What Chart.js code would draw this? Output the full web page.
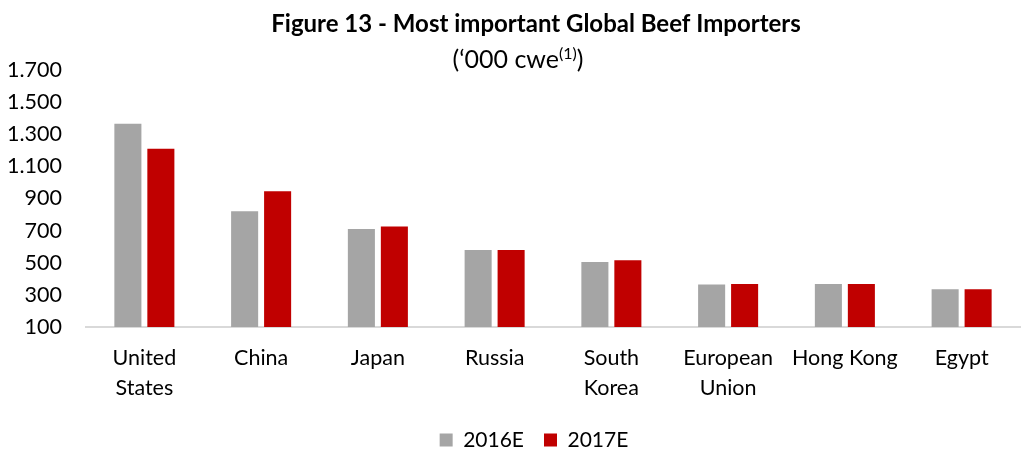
<!DOCTYPE html>
<html>
<head>
<meta charset="utf-8">
<script src="https://cdn.jsdelivr.net/npm/chart.js@4/dist/chart.umd.min.js"></script>
<style>
  body { margin: 0; background: #fff; }
  #wrap { width: 1023px; height: 453px; position: relative; }
</style>
</head>
<body>
<div id="wrap"><canvas id="beefChart"></canvas></div>
<script>
// data
var paises = [['United', 'States'], 'China', 'Japan', 'Russia', ['South', 'Korea'], ['European', 'Union'], 'Hong Kong', 'Egypt'];
var datos2016 = [1365, 820, 710, 580, 505, 365, 368, 335];
var datos2017 = [1210, 945, 725, 580, 515, 368, 368, 335];
var ticksY = [100, 300, 500, 700, 900, 1100, 1300, 1500, 1700];

var fuente = 'Lato, "Open Sans", "Liberation Sans", sans-serif';

// title + subtitle with superscript
var tituloPlugin = {
    id: 'titulo',
    afterDraw: function(chart) {
        var ctx = chart.ctx;
        ctx.save();
        ctx.fillStyle = '#000';
        ctx.textBaseline = 'alphabetic';
        ctx.font = 'bold 24px ' + fuente;
        ctx.textAlign = 'center';
        ctx.fillText('Figure 13 - Most important Global Beef Importers', 536, 32);

        ctx.font = '25px ' + fuente;
        var a = '(\u2018000 cwe', sup = '(1)', b = ')';
        ctx.textAlign = 'left';
        var wa = ctx.measureText(a).width;
        var wb = ctx.measureText(b).width;
        ctx.font = '16px ' + fuente;
        var ws = ctx.measureText(sup).width;
        var x = 518 - (wa + ws + wb) / 2;
        ctx.font = '25px ' + fuente;
        ctx.fillText(a, x, 68);
        ctx.font = '16px ' + fuente;
        ctx.fillText(sup, x + wa, 59);
        ctx.font = '25px ' + fuente;
        ctx.fillText(b, x + wa + ws, 68);
        ctx.restore();
    }
};

// leyenda un poco mas baja y corrida a la derecha, como en la figura
var leyendaPlugin = {
    id: 'ajusteLeyenda',
    beforeLayout: function(chart) {
        var leg = chart.legend;
        if (leg && !leg._ajustada) {
            var fitOrig = leg.fit;
            leg.fit = function() {
                fitOrig.call(this);
                this.height -= 7.5;
            };
            leg._ajustada = true;
        }
    },
    afterLayout: function(chart) {
        chart.legend.left += 20;
        chart.legend.right += 20;
    }
};

var ctx = document.getElementById('beefChart').getContext('2d');
var grafico = new Chart(ctx, {
    type: 'bar',
    data: {
        labels: paises,
        datasets: [{
            label: '2016E',
            data: datos2016,
            backgroundColor: '#A5A5A5',
            categoryPercentage: 0.565,
            barPercentage: 0.82
        }, {
            label: '2017E',
            data: datos2017,
            backgroundColor: '#C00000',
            categoryPercentage: 0.565,
            barPercentage: 0.82
        }]
    },
    options: {
        responsive: true,
        maintainAspectRatio: false,
        animation: false,
        layout: { padding: { top: 70, right: 3, left: 8, bottom: 0 } },
        plugins: {
            legend: {
                position: 'bottom',
                labels: {
                    boxWidth: 13,
                    boxHeight: 13,
                    padding: 20,
                    color: '#000',
                    font: { family: fuente, size: 21 }
                }
            },
            tooltip: { enabled: false }
        },
        scales: {
            x: {
                grid: { display: false, drawTicks: true, tickLength: 12 },
                border: { display: true, color: '#D9D9D9', width: 2 },
                afterFit: function(axis) {
                    axis.height = 82.5;
                },
                ticks: {
                    color: '#000',
                    padding: 4,
                    maxRotation: 0,
                    autoSkip: false,
                    font: { family: fuente, size: 21.5, lineHeight: 1.4 }
                }
            },
            y: {
                min: 100,
                max: 1700,
                afterBuildTicks: function(axis) {
                    axis.ticks = ticksY.map(function(v) { return { value: v }; });
                },
                afterFit: function(axis) {
                    axis.width = 78;
                },
                grid: { display: false, drawTicks: false },
                border: { display: false },
                ticks: {
                    color: '#000',
                    padding: 24,
                    font: { family: fuente, size: 21.5 },
                    callback: function(v) {
                        return String(v).replace(/\B(?=(\d{3})+(?!\d))/g, '.');
                    }
                }
            }
        }
    },
    plugins: [tituloPlugin, leyendaPlugin]
});
</script>
</body>
</html>
